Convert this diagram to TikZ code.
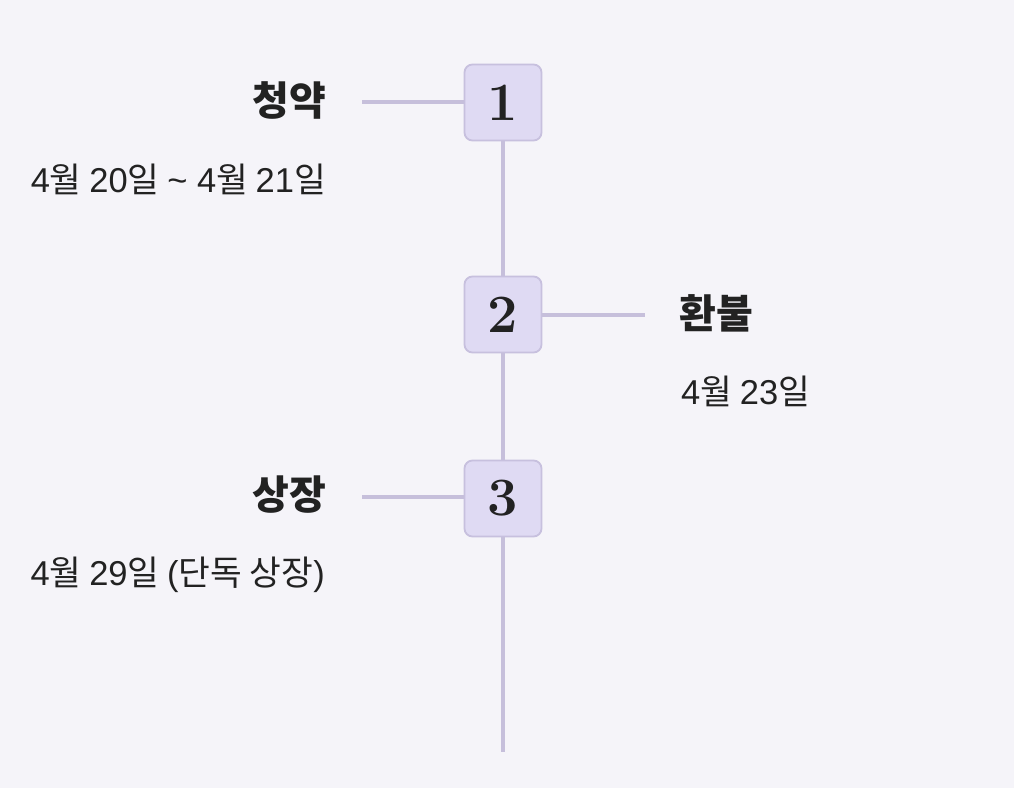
\documentclass[tikz,border=0pt]{standalone}
\usepackage{fontspec}
\newfontfamily\kr{Noto Sans CJK KR}
\newfontfamily\lat{Liberation Sans}
\newcommand{\dg}[1]{{\lat #1}}
\definecolor{bgc}{HTML}{F5F4F9}
\definecolor{boxfill}{HTML}{DFDAF3}
\definecolor{boxline}{HTML}{C7C0DE}
\definecolor{linec}{HTML}{C6BFDB}
\definecolor{txt}{HTML}{222222}
\tikzset{
  stepbox/.style={draw=boxline, fill=boxfill, line width=1.8pt, rounded corners=8pt,
    minimum width=77pt, minimum height=76pt, inner sep=0pt,
    font=\fontsize{54}{54}\selectfont\bfseries, text=txt},
  conn/.style={draw=linec, line width=3.5pt},
  ttl/.style={font=\kr\fontsize{40}{44}\selectfont\bfseries, text=txt, inner sep=0pt},
  sub/.style={font=\kr\fontsize{34.5}{38}\selectfont, text=txt, inner sep=0pt}
}
\begin{document}
\begin{tikzpicture}[x=1pt,y=-1pt]
\fill[bgc] (0,0) rectangle (1014,788);
\useasboundingbox (0,0) rectangle (1014,788);
\coordinate (end) at (503,752);
\coordinate (l1) at (362,102);
\coordinate (r2) at (645,315);
\coordinate (l3) at (362,497);
\draw[conn] (503,141) -- (end);
\draw[conn] (l1) -- (464,102);
\draw[conn] (542,315) -- (r2);
\draw[conn] (l3) -- (464,497);
\node[stepbox] (b1) at (503,102.5) {1};
\node[stepbox] (b2) at (503,314.5) {2};
\node[stepbox] (b3) at (503,498.5) {3};
\node[ttl, anchor=east] (t1) at (326,100) {청약};
\node[sub, anchor=east] (s1) at (326,179) {\dg{4}월 \dg{20}일 \dg{\textasciitilde{} 4}월 \dg{21}일};
\node[ttl, anchor=west] (t2) at (679,313) {환불};
\node[sub, anchor=west] (s2) at (681,391) {\dg{4}월 \dg{23}일};
\node[ttl, anchor=east] (t3) at (326,495) {상장};
\node[sub, anchor=east] (s3) at (325,575) {\dg{4}월 \dg{29}일 \dg{(}단독 상장\dg{)}};
\end{tikzpicture}
\end{document}
